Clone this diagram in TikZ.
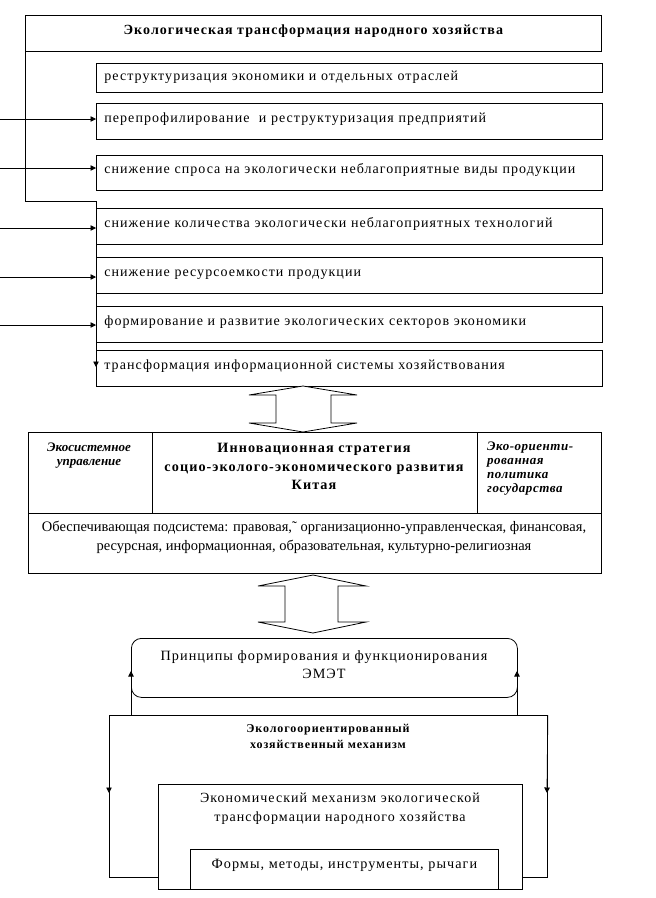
\documentclass[tikz,border=0pt]{standalone}
\usepackage{fontspec}
\setmainfont{Liberation Serif}
\newfontfamily\spaced[LetterSpace=7.5]{Liberation Serif}
\newfontfamily\spacedB[LetterSpace=4]{Liberation Serif}
\usetikzlibrary{arrows.meta,calc}
\begin{document}
\begin{tikzpicture}[x=1pt,y=-1pt,
  lw/.style={line width=0.8pt},
  itembox/.style={draw,lw,rectangle,anchor=north west,inner xsep=8pt,inner ysep=0pt,
    text width=490pt,align=left,minimum height=36pt,text height=9pt,text depth=7pt,
    font=\spaced\fontsize{14}{16}\selectfont},
  plainbox/.style={draw,lw,rectangle,anchor=north west,inner sep=0pt},
  txt/.style={inner sep=0pt,align=center},
  arr/.style={lw,-{Triangle[length=5.5pt,width=5.5pt]}},
  dblarrow/.style={draw,lw,fill=white}
]
\useasboundingbox (0,0) rectangle (656,898);

% header
\node[plainbox,minimum width=576pt,minimum height=36pt,
  font=\spaced\bfseries\fontsize{14}{16}\selectfont,text depth=6pt,text height=9pt]
  (hdr) at (25,15) {Экологическая трансформация народного хозяйства};

% item boxes
\node[itembox,minimum height=29pt,text depth=3pt] (b1) at (96,63) {реструктуризация экономики и отдельных отраслей};
\node[itembox] (b2) at (96,103) {перепрофилирование\ \ и реструктуризация предприятий};
\node[itembox,minimum height=35pt] (b3) at (96,155) {снижение спроса на экологически неблагоприятные виды продукции};
\node[itembox] (b4) at (96,208) {снижение количества экологически неблагоприятных технологий};
\node[itembox] (b5) at (96,257) {снижение ресурсоемкости продукции};
\node[itembox] (b6) at (96,306) {формирование и развитие экологических секторов экономики};
\node[itembox] (b7) at (96,350) {трансформация информационной системы хозяйствования};

% frame line from header down to last box
\coordinate (corner) at (25,201);
\coordinate (endtip) at (96,367);
\draw[lw] (hdr.south west) -- (corner) -- (corner -| b4.west);
\draw[arr] (corner -| b4.west) -- (endtip);

% incoming arrows from left
\foreach \b/\y in {b2/119,b3/168,b4/228,b5/277,b6/325}{
  \coordinate (s\b) at (0,\y);
  \draw[arr] (s\b) -- (s\b -| \b.west);
}

% double arrow 1
\draw[dblarrow] (303,386) -- (357,395) -- (331,395) -- (331,423) -- (357,423) -- (303,432)
  -- (249,423) -- (276,423) -- (276,395) -- (249,395) -- cycle;

% strategy block
\node[plainbox,minimum width=573pt,minimum height=141pt] (strat) at (28,432) {};
\node[plainbox,minimum width=124pt,minimum height=81pt] (lcell) at (28,432) {};
\node[plainbox,minimum width=325pt,minimum height=81pt] (ccell) at (152,432) {};
\node[plainbox,minimum width=124pt,minimum height=81pt] (rcell) at (477,432) {};
\node[txt,anchor=north,font=\bfseries\itshape\fontsize{13}{14}\selectfont] (ltxt) at (89,443)
  {Экосистемное\\управление};
\node[txt,anchor=north,font=\spaced\bfseries\fontsize{14.2}{18.5}\selectfont] (ctxt) at (314,443)
  {Инновационная стратегия\\социо-эколого-экономического развития\\Китая};
\node[txt,anchor=north west,align=left,font=\spacedB\bfseries\itshape\fontsize{13}{14}\selectfont] (rtxt) at (487,442)
  {Эко-ориенти-\\рованная\\политика\\государства};
\node[txt,anchor=north,font=\fontsize{14.5}{19}\selectfont] (btxt) at (314,521)
  {Обеспечивающая подсистема: правовая,˜ организационно-управленческая, финансовая,\\ресурсная, информационная, образовательная, культурно-религиозная};

% double arrow 2
\draw[dblarrow] (313,575) -- (366,586) -- (338,586) -- (338,622) -- (366,622) -- (313,633)
  -- (258,622) -- (285,622) -- (285,586) -- (258,586) -- cycle;

% principles
\node[draw,lw,rounded corners=10pt,anchor=north west,minimum width=386pt,minimum height=59pt,
  inner sep=0pt] (princ) at (131,638) {};
\node[txt,anchor=north,font=\spaced\fontsize{14.2}{18}\selectfont] (princtxt) at (324,650)
  {Принципы формирования и функционирования\\ЭМЭТ};

% eco mechanism
\node[plainbox,minimum width=438pt,minimum height=162pt] (eco) at (109,715) {};
\node[txt,anchor=north,font=\spaced\bfseries\fontsize{12}{16}\selectfont] (ecotxt) at (328,724)
  {Экологоориентированный\\хозяйственный механизм};
\coordinate (ltip) at (109,793);
\coordinate (rtip) at (547,793);
\coordinate (lup) at (131,671);
\coordinate (rup) at (517,671);
\draw[arr] (eco.north west) -- (ltip);
\draw[arr] (eco.north east) -- (rtip);
\draw[arr] (lup |- eco.north) -- (lup);
\draw[arr] (rup |- eco.north) -- (rup);

% economic mechanism
\node[plainbox,fill=white,minimum width=364pt,minimum height=105pt] (econ) at (158,784) {};
\node[txt,anchor=north,font=\spaced\fontsize{14}{19}\selectfont] (econtxt) at (340,793)
  {Экономический механизм экологической\\трансформации народного хозяйства};
\node[plainbox,minimum width=308pt,minimum height=40pt,font=\spaced\fontsize{14.2}{16}\selectfont,
  text height=10pt,text depth=12pt] (forms) at (190,849) {Формы, методы, инструменты, рычаги};
\end{tikzpicture}
\end{document}
